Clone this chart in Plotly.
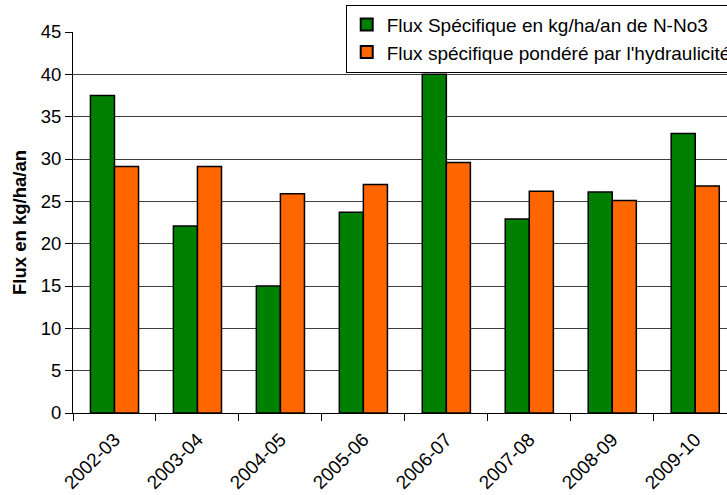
import plotly.graph_objects as go

categories = ["2002-03", "2003-04", "2004-05", "2005-06", "2006-07", "2007-08", "2008-09", "2009-10"]
flux_specifique = [37.5, 22.1, 15.0, 23.7, 40.0, 22.9, 26.1, 33.0]
flux_pondere = [29.1, 29.1, 25.9, 27.0, 29.6, 26.2, 25.1, 26.8]
y_ticks = [0, 5, 10, 15, 20, 25, 30, 35, 40, 45]

name_green = "Flux Spécifique en kg/ha/an de N-No3"
name_orange = "Flux spécifique pondéré par l'hydraulicité"

FONT = "Liberation Sans, Arial, sans-serif"

fig = go.Figure()
fig.add_trace(go.Bar(
    x=categories, y=flux_specifique, name=name_green,
    marker=dict(color="#008000", line=dict(color="#000000", width=1.5)),
))
fig.add_trace(go.Bar(
    x=categories, y=flux_pondere, name=name_orange,
    marker=dict(color="#FF6600", line=dict(color="#000000", width=1.5)),
))

fig.update_layout(
    width=727, height=495,
    margin=dict(l=73, r=0, t=32, b=82, autoexpand=False),
    paper_bgcolor="white", plot_bgcolor="white",
    barmode="group", bargap=0.42, bargroupgap=0,
    font=dict(family=FONT, size=18, color="#000000"),
    showlegend=True,
    legend=dict(
        x=0.417, y=1.072, xanchor="left", yanchor="top",
        bgcolor="white", bordercolor="#000000", borderwidth=1,
        font=dict(family=FONT, size=19, color="#000000"),
        traceorder="normal", tracegroupgap=0, itemsizing="constant",
    ),
    xaxis=dict(
        type="category",
        range=[-0.5, 7.383],
        showline=True, linecolor="#000000", linewidth=1,
        ticks="outside", tickson="boundaries", ticklen=7, tickcolor="#000000",
        tickangle=-45, ticklabelstandoff=7,
        tickfont=dict(family=FONT, size=19, color="#000000"),
        showgrid=False,
    ),
    yaxis=dict(
        range=[0, 45], tickvals=y_ticks,
        showline=True, linecolor="#000000", linewidth=1,
        ticks="outside", ticklen=7, tickcolor="#000000",
        tickfont=dict(family=FONT, size=18.5, color="#000000"),
        showgrid=True, gridcolor="#404040", gridwidth=1,
        zeroline=False,
        title=dict(text="<b>Flux en kg/ha/an</b>", standoff=9,
                   font=dict(family=FONT, size=18.5, color="#000000")),
        automargin=False,
    ),
)

fig.write_html(
    "out.html",
    config={"displayModeBar": False},
    post_script="document.body.style.margin='0';document.body.style.overflow='hidden';",
)
